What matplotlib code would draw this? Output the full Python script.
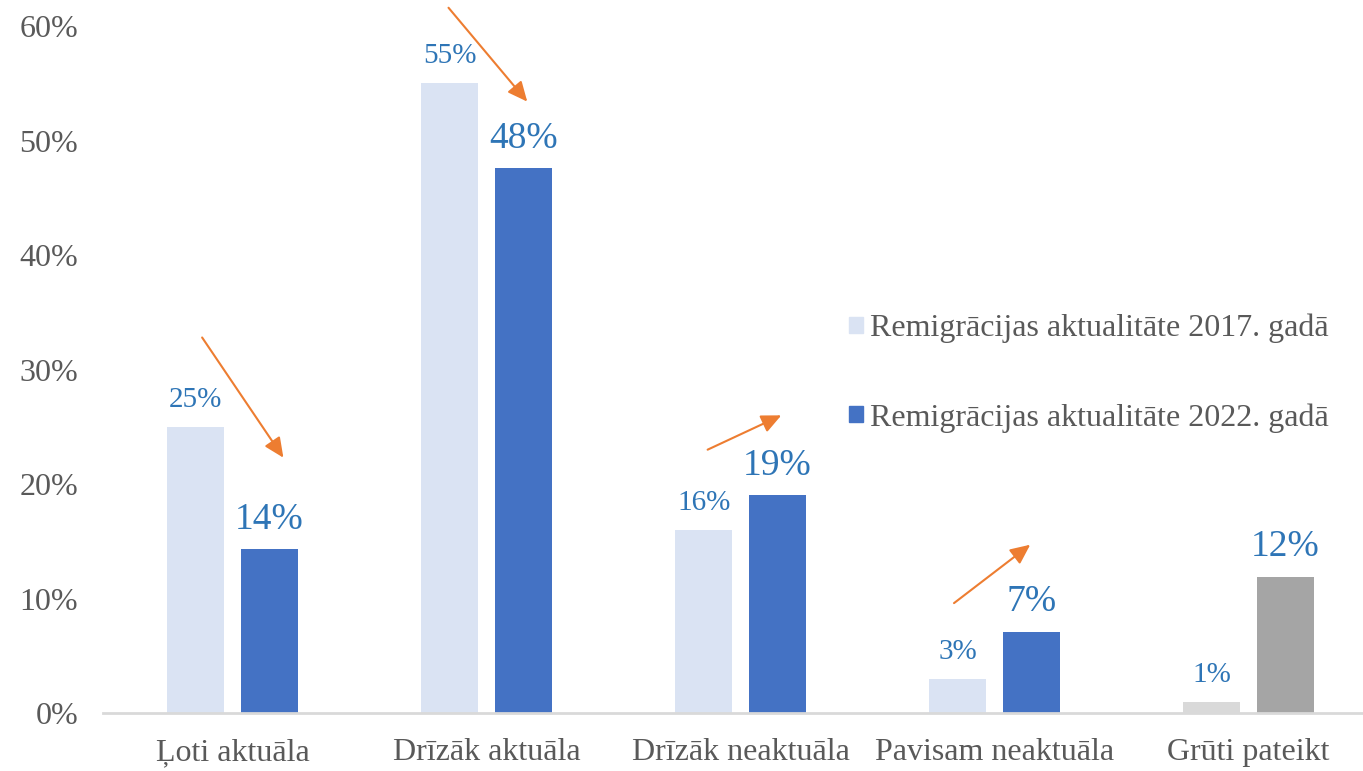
import matplotlib

matplotlib.use("Agg")
import matplotlib.pyplot as plt
from matplotlib.patches import Patch

categories = ["Ļoti aktuāla", "Drīzāk aktuāla", "Drīzāk neaktuāla", "Pavisam neaktuāla", "Grūti pateikt"]
values_2017 = [25, 55, 16, 3, 1]
values_2022 = [14.3, 47.6, 19, 7.1, 11.9]
labels_2017 = ["25%", "55%", "16%", "3%", "1%"]
labels_2022 = ["14%", "48%", "19%", "7%", "12%"]
legend_labels = ["Remigrācijas aktualitāte 2017. gadā", "Remigrācijas aktualitāte 2022. gadā"]
yticks = [0, 10, 20, 30, 40, 50, 60]

# trend arrows (start x, start y, end x, end y) in data units
arrows = [
    (-0.12, 32.8, 0.20, 22.3),
    (0.85, 61.6, 1.16, 53.4),
    (1.87, 23.0, 2.16, 26.0),
    (2.84, 9.6, 3.14, 14.7),
]

LIGHT = "#DAE3F3"
DARK = "#4472C4"
GRAY_LIGHT = "#D9D9D9"
GRAY_DARK = "#A5A5A5"
LABEL_BLUE = "#2E75B6"
TEXT_GRAY = "#595959"
ORANGE = "#ED7D31"

plt.rcParams["font.family"] = ["Liberation Serif", "DejaVu Serif"]

fig = plt.figure(figsize=(13.63, 7.71), dpi=100)
ax = fig.add_axes([0.0756, 0.0752, 0.9244, 0.891])

width = 0.225
offset = 0.145
x = list(range(len(categories)))
colors_a = [LIGHT] * 4 + [GRAY_LIGHT]
colors_b = [DARK] * 4 + [GRAY_DARK]

bars_a = ax.bar([i - offset for i in x], values_2017, width, color=colors_a)
bars_b = ax.bar([i + offset for i in x], values_2022, width, color=colors_b)

for b, lab in zip(bars_a, labels_2017):
    ax.annotate(lab, (b.get_x() + b.get_width() / 2, b.get_height()),
                xytext=(0, 10), textcoords="offset points",
                ha="center", va="bottom", fontsize=21, color=LABEL_BLUE)
for b, lab in zip(bars_b, labels_2022):
    ax.annotate(lab, (b.get_x() + b.get_width() / 2, b.get_height()),
                xytext=(0, 9), textcoords="offset points",
                ha="center", va="bottom", fontsize=27, color=LABEL_BLUE)

for x0, y0, x1, y1 in arrows:
    ax.annotate("", xy=(x1, y1), xytext=(x0, y0), annotation_clip=False,
                arrowprops=dict(arrowstyle="-|>,head_length=1.2,head_width=0.55",
                                color=ORANGE, lw=1.5, shrinkA=0, shrinkB=0))

ax.set_xlim(-0.51, 4.45)
ax.set_ylim(0, 60)
ax.set_yticks(yticks)
ax.set_yticklabels([f"{t}%" for t in yticks])
ax.set_xticks(x)
ax.set_xticklabels(categories)
ax.tick_params(axis="both", length=0, labelsize=23, labelcolor=TEXT_GRAY)
ax.tick_params(axis="y", pad=18)
ax.tick_params(axis="x", pad=18)
for side in ["top", "right", "left"]:
    ax.spines[side].set_visible(False)
ax.spines["bottom"].set_color(GRAY_LIGHT)
ax.spines["bottom"].set_linewidth(2)

handles = [Patch(color=LIGHT), Patch(color=DARK)]
fig.legend(handles, legend_labels, loc="center left", bbox_to_anchor=(0.602, 0.516),
           frameon=False, fontsize=23, labelcolor=TEXT_GRAY, handlelength=0.42,
           handleheight=0.42, handletextpad=0.22, labelspacing=1.87)

fig.savefig("out.png", dpi=100)
